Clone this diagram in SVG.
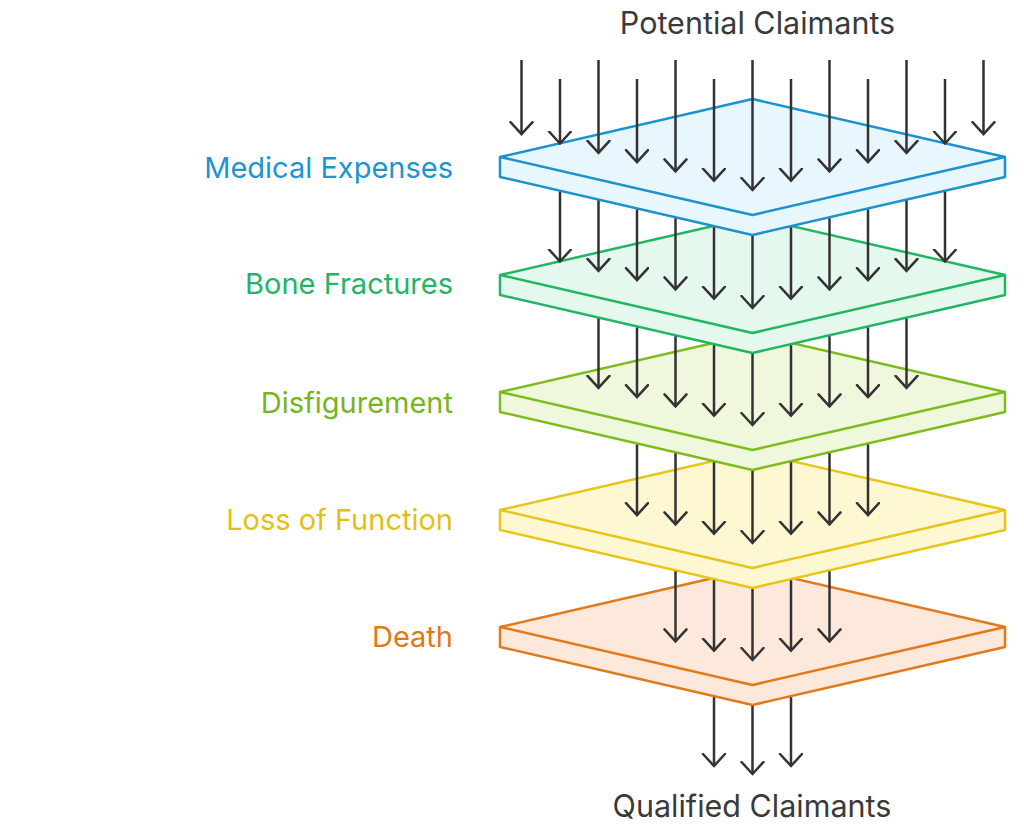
<svg xmlns="http://www.w3.org/2000/svg" width="1024" height="832" viewBox="0 0 1024 832">
<defs>
<style>
.title{font-family:Inter,Roboto,"Liberation Sans",sans-serif;font-size:30.5px;fill:#3a3a3a;text-anchor:middle}
.lbl{font-family:Inter,Roboto,"Liberation Sans",sans-serif;font-size:29px;text-anchor:end}
.layer path{stroke-width:2.5;stroke-linejoin:round}
.inner{fill:none}
.conn line{stroke:#333;stroke-width:2.5;fill:none;marker-end:url(#ah)}
</style>
<marker id="ah" markerWidth="16" markerHeight="26" refX="13" refY="12" orient="auto" markerUnits="userSpaceOnUse" viewBox="0 0 16 26">
<path d="M1,1 L13,12 L1,23" fill="none" stroke="#333" stroke-width="2.5" stroke-linecap="round" stroke-linejoin="miter"/>
</marker>
</defs>
<rect width="1024" height="832" fill="#ffffff"/>

<text class="title" x="757.5" y="34">Potential Claimants</text>
<text class="title" x="752" y="817">Qualified Claimants</text>

<g id="layer-death" class="layer">
<path d="M752.5,569 L1005,627 L1005,647 L752.5,705 L500,647 L500,627 Z" fill="#fde8dc" stroke="#e2791a"/>
<path class="inner" d="M500,627 L752.5,685 L1005,627" stroke="#e2791a"/>
<text class="lbl" x="453" y="647" fill="#e07917">Death</text>
</g>
<g id="layer-loss-of-function" class="layer">
<path d="M752.5,452 L1005,510 L1005,530 L752.5,588 L500,530 L500,510 Z" fill="#fdf7d2" stroke="#e8c51a"/>
<path class="inner" d="M500,510 L752.5,568 L1005,510" stroke="#e8c51a"/>
<text class="lbl" x="453" y="530" fill="#e3bf14">Loss of Function</text>
</g>
<g id="layer-disfigurement" class="layer">
<path d="M752.5,334 L1005,392 L1005,412 L752.5,470 L500,412 L500,392 Z" fill="#eff8dd" stroke="#7cbc1c"/>
<path class="inner" d="M500,392 L752.5,450 L1005,392" stroke="#7cbc1c"/>
<text class="lbl" x="453" y="413" fill="#76b51b">Disfigurement</text>
</g>
<g id="layer-bone-fractures" class="layer">
<path d="M752.5,217 L1005,275 L1005,295 L752.5,353 L500,295 L500,275 Z" fill="#e5f8ed" stroke="#22b564"/>
<path class="inner" d="M500,275 L752.5,333 L1005,275" stroke="#22b564"/>
<text class="lbl" x="453" y="294" fill="#23b466">Bone Fractures</text>
</g>
<g id="layer-medical-expenses" class="layer">
<path d="M752.5,99 L1005,157 L1005,177 L752.5,235 L500,177 L500,157 Z" fill="#e8f6fd" stroke="#1b93cf"/>
<path class="inner" d="M500,157 L752.5,215 L1005,157" stroke="#1b93cf"/>
<text class="lbl" x="453" y="178" fill="#1c95d0">Medical Expenses</text>
</g>

<g id="connectors" class="conn">
<!-- into Medical Expenses -->
<line x1="521.5" y1="60" x2="521.5" y2="134.2"/>
<line x1="560" y1="79" x2="560" y2="143.5"/>
<line x1="598.5" y1="60" x2="598.5" y2="152.8"/>
<line x1="637" y1="79" x2="637" y2="162.1"/>
<line x1="675.5" y1="60" x2="675.5" y2="171.4"/>
<line x1="714" y1="79" x2="714" y2="180.7"/>
<line x1="752.5" y1="60" x2="752.5" y2="190"/>
<line x1="791" y1="79" x2="791" y2="180.7"/>
<line x1="829.5" y1="60" x2="829.5" y2="171.4"/>
<line x1="868" y1="79" x2="868" y2="162.1"/>
<line x1="906.5" y1="60" x2="906.5" y2="152.8"/>
<line x1="945" y1="79" x2="945" y2="143.5"/>
<line x1="983.5" y1="60" x2="983.5" y2="134.2"/>
<!-- into Bone Fractures -->
<line x1="560" y1="191.8" x2="560" y2="261.5"/>
<line x1="598.5" y1="200.6" x2="598.5" y2="270.8"/>
<line x1="637" y1="209.5" x2="637" y2="280.1"/>
<line x1="675.5" y1="218.3" x2="675.5" y2="289.4"/>
<line x1="714" y1="227.2" x2="714" y2="298.7"/>
<line x1="752.5" y1="236" x2="752.5" y2="308"/>
<line x1="791" y1="227.2" x2="791" y2="298.7"/>
<line x1="829.5" y1="218.3" x2="829.5" y2="289.4"/>
<line x1="868" y1="209.5" x2="868" y2="280.1"/>
<line x1="906.5" y1="200.6" x2="906.5" y2="270.8"/>
<line x1="945" y1="191.8" x2="945" y2="261.5"/>
<!-- into Disfigurement -->
<line x1="598.5" y1="318.6" x2="598.5" y2="387.8"/>
<line x1="637" y1="327.5" x2="637" y2="397.1"/>
<line x1="675.5" y1="336.3" x2="675.5" y2="406.4"/>
<line x1="714" y1="345.2" x2="714" y2="415.7"/>
<line x1="752.5" y1="354" x2="752.5" y2="425"/>
<line x1="791" y1="345.2" x2="791" y2="415.7"/>
<line x1="829.5" y1="336.3" x2="829.5" y2="406.4"/>
<line x1="868" y1="327.5" x2="868" y2="397.1"/>
<line x1="906.5" y1="318.6" x2="906.5" y2="387.8"/>
<!-- into Loss of Function -->
<line x1="637" y1="444.5" x2="637" y2="515.1"/>
<line x1="675.5" y1="453.3" x2="675.5" y2="524.4"/>
<line x1="714" y1="462.2" x2="714" y2="533.7"/>
<line x1="752.5" y1="471" x2="752.5" y2="543"/>
<line x1="791" y1="462.2" x2="791" y2="533.7"/>
<line x1="829.5" y1="453.3" x2="829.5" y2="524.4"/>
<line x1="868" y1="444.5" x2="868" y2="515.1"/>
<!-- into Death -->
<line x1="675.5" y1="571.3" x2="675.5" y2="641.4"/>
<line x1="714" y1="580.2" x2="714" y2="650.7"/>
<line x1="752.5" y1="589" x2="752.5" y2="660"/>
<line x1="791" y1="580.2" x2="791" y2="650.7"/>
<line x1="829.5" y1="571.3" x2="829.5" y2="641.4"/>
<!-- to Qualified Claimants -->
<line x1="714" y1="697.2" x2="714" y2="766"/>
<line x1="752.5" y1="706" x2="752.5" y2="774"/>
<line x1="791" y1="697.2" x2="791" y2="766"/>
</g>
</svg>
